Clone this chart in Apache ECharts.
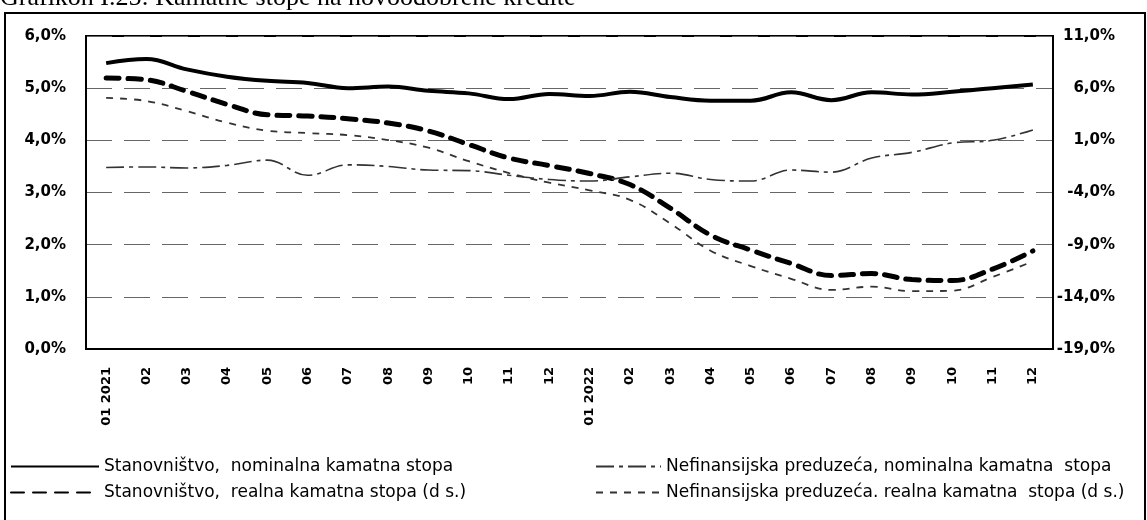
<!DOCTYPE html>
<html>
<head>
<meta charset="utf-8">
<script src="https://cdn.jsdelivr.net/npm/echarts@6/dist/echarts.min.js"></script>
<style>
  html, body { margin: 0; padding: 0; background: #fff; }
  #chart { width: 1147px; height: 520px; }
</style>
</head>
<body>
<div id="chart"></div>
<script>
// mjeseci 2021-2022
const months = [
  "01 2021", "02", "03", "04", "05", "06", "07", "08", "09", "10", "11", "12",
  "01 2022", "02", "03", "04", "05", "06", "07", "08", "09", "10", "11", "12"
];
// stanovnistvo, nominalna (lijeva osa)
const stanNominal = [5.48, 5.56, 5.36, 5.22, 5.14, 5.1, 5.0, 5.03, 4.95, 4.9, 4.79, 4.89,
  4.85, 4.93, 4.83, 4.76, 4.76, 4.92, 4.77, 4.92, 4.88, 4.93, 5.0, 5.07];
// stanovnistvo, realna (desna osa)
const stanReal = [6.97, 6.8, 5.7, 4.45, 3.45, 3.33, 3.07, 2.66, 1.9, 0.6, -0.7, -1.42,
  -2.18, -3.24, -5.5, -8.08, -9.52, -10.8, -11.96, -11.77, -12.35, -12.44, -11.34, -9.6];
// nefinansijska preduzeca, nominalna (lijeva osa)
const nfcNominal = [3.48, 3.49, 3.47, 3.52, 3.62, 3.33, 3.53, 3.5, 3.43, 3.42, 3.33, 3.25,
  3.22, 3.3, 3.37, 3.25, 3.22, 3.43, 3.39, 3.66, 3.77, 3.95, 4.0, 4.2];
// nefinansijska preduzeca, realna (desna osa)
const nfcReal = [5.06, 4.77, 3.8, 2.7, 1.93, 1.7, 1.5, 1.03, 0.29, -1.0, -2.14, -3.06,
  -3.79, -4.7, -6.96, -9.58, -11.05, -12.27, -13.34, -13.03, -13.46, -13.41, -12.1, -10.6];

const labelFont = '"DejaVu Sans", sans-serif';
const legendFont = '"DejaVu Sans", sans-serif';

const chart = echarts.init(document.getElementById("chart"));

const pct = v => v.toFixed(1).replace(".", ",") + "%";

const option = {
  animation: false,
  backgroundColor: "#fff",
  graphic: [
    {
      type: "text",
      left: 0,
      top: -15,
      style: {
        text: "Grafikon I.25: Kamatne stope na novoodobrene kredite",
        font: '26px "Liberation Serif", "DejaVu Serif", serif',
        fill: "#000"
      }
    },
    {
      type: "rect",
      shape: { x: 5, y: 13, width: 1140, height: 540 },
      style: { fill: "none", stroke: "#000", lineWidth: 2 }
    }
  ],
  grid: {
    left: 86, right: 94, top: 36, bottom: 171,
    show: true, borderColor: "#000", borderWidth: 2
  },
  legend: [
    {
      left: 5, top: 453, orient: "vertical", itemGap: 9,
      itemWidth: 88, itemHeight: 18,
      itemStyle: { opacity: 0 },
      textStyle: { fontFamily: legendFont, fontSize: 17, color: "#000" },
      data: ["Stanovništvo,  nominalna kamatna stopa", "Stanovništvo,  realna kamatna stopa (d s.)"]
    },
    {
      left: 590, top: 453, orient: "vertical", itemGap: 9,
      itemWidth: 65, itemHeight: 18,
      itemStyle: { opacity: 0 },
      textStyle: { fontFamily: legendFont, fontSize: 17, color: "#000" },
      data: ["Nefinansijska preduzeća, nominalna kamatna  stopa", "Nefinansijska preduzeća. realna kamatna  stopa (d s.)"]
    }
  ],
  xAxis: {
    type: "category",
    data: months,
    axisLine: { lineStyle: { color: "#000", width: 2 } },
    axisTick: { show: false },
    axisLabel: {
      rotate: 90, margin: 18, interval: 0,
      fontFamily: labelFont, fontSize: 13, fontWeight: "bold", color: "#000"
    }
  },
  yAxis: [
    {
      type: "value", min: 0, max: 6, interval: 1,
      axisLine: { show: true, lineStyle: { color: "#000", width: 2 } },
      axisTick: { show: false },
      splitLine: { lineStyle: { color: "#666", width: 1, type: [26, 12] } },
      axisLabel: {
        margin: 20, fontFamily: labelFont, fontSize: 15, fontWeight: "bold", color: "#000",
        formatter: pct
      }
    },
    {
      type: "value", min: -19, max: 11, interval: 5,
      axisLine: { show: true, lineStyle: { color: "#000", width: 2 } },
      axisTick: { show: false },
      splitLine: { show: false },
      axisLabel: {
        margin: 62, align: "right", fontFamily: labelFont, fontSize: 15, fontWeight: "bold", color: "#000",
        formatter: pct
      }
    }
  ],
  series: [
    {
      name: "Stanovništvo,  nominalna kamatna stopa",
      type: "line", yAxisIndex: 0, data: stanNominal,
      smooth: 0.4, symbol: "none",
      lineStyle: { color: "#000", width: 4 },
      itemStyle: { color: "#000" }
    },
    {
      name: "Stanovništvo,  realna kamatna stopa (d s.)",
      type: "line", yAxisIndex: 1, data: stanReal,
      smooth: 0.4, symbol: "none",
      lineStyle: { color: "#000", width: 5, type: [13, 9], cap: "round" },
      itemStyle: { color: "#000" }
    },
    {
      name: "Nefinansijska preduzeća, nominalna kamatna  stopa",
      type: "line", yAxisIndex: 0, data: nfcNominal,
      smooth: 0.4, symbol: "none",
      lineStyle: { color: "#333", width: 1.6, type: [18, 5, 4, 5] },
      itemStyle: { color: "#333" }
    },
    {
      name: "Nefinansijska preduzeća. realna kamatna  stopa (d s.)",
      type: "line", yAxisIndex: 1, data: nfcReal,
      smooth: 0.4, symbol: "none",
      lineStyle: { color: "#333", width: 1.8, type: [7, 7] },
      itemStyle: { color: "#333" }
    }
  ]
};

chart.setOption(option);
</script>
</body>
</html>
